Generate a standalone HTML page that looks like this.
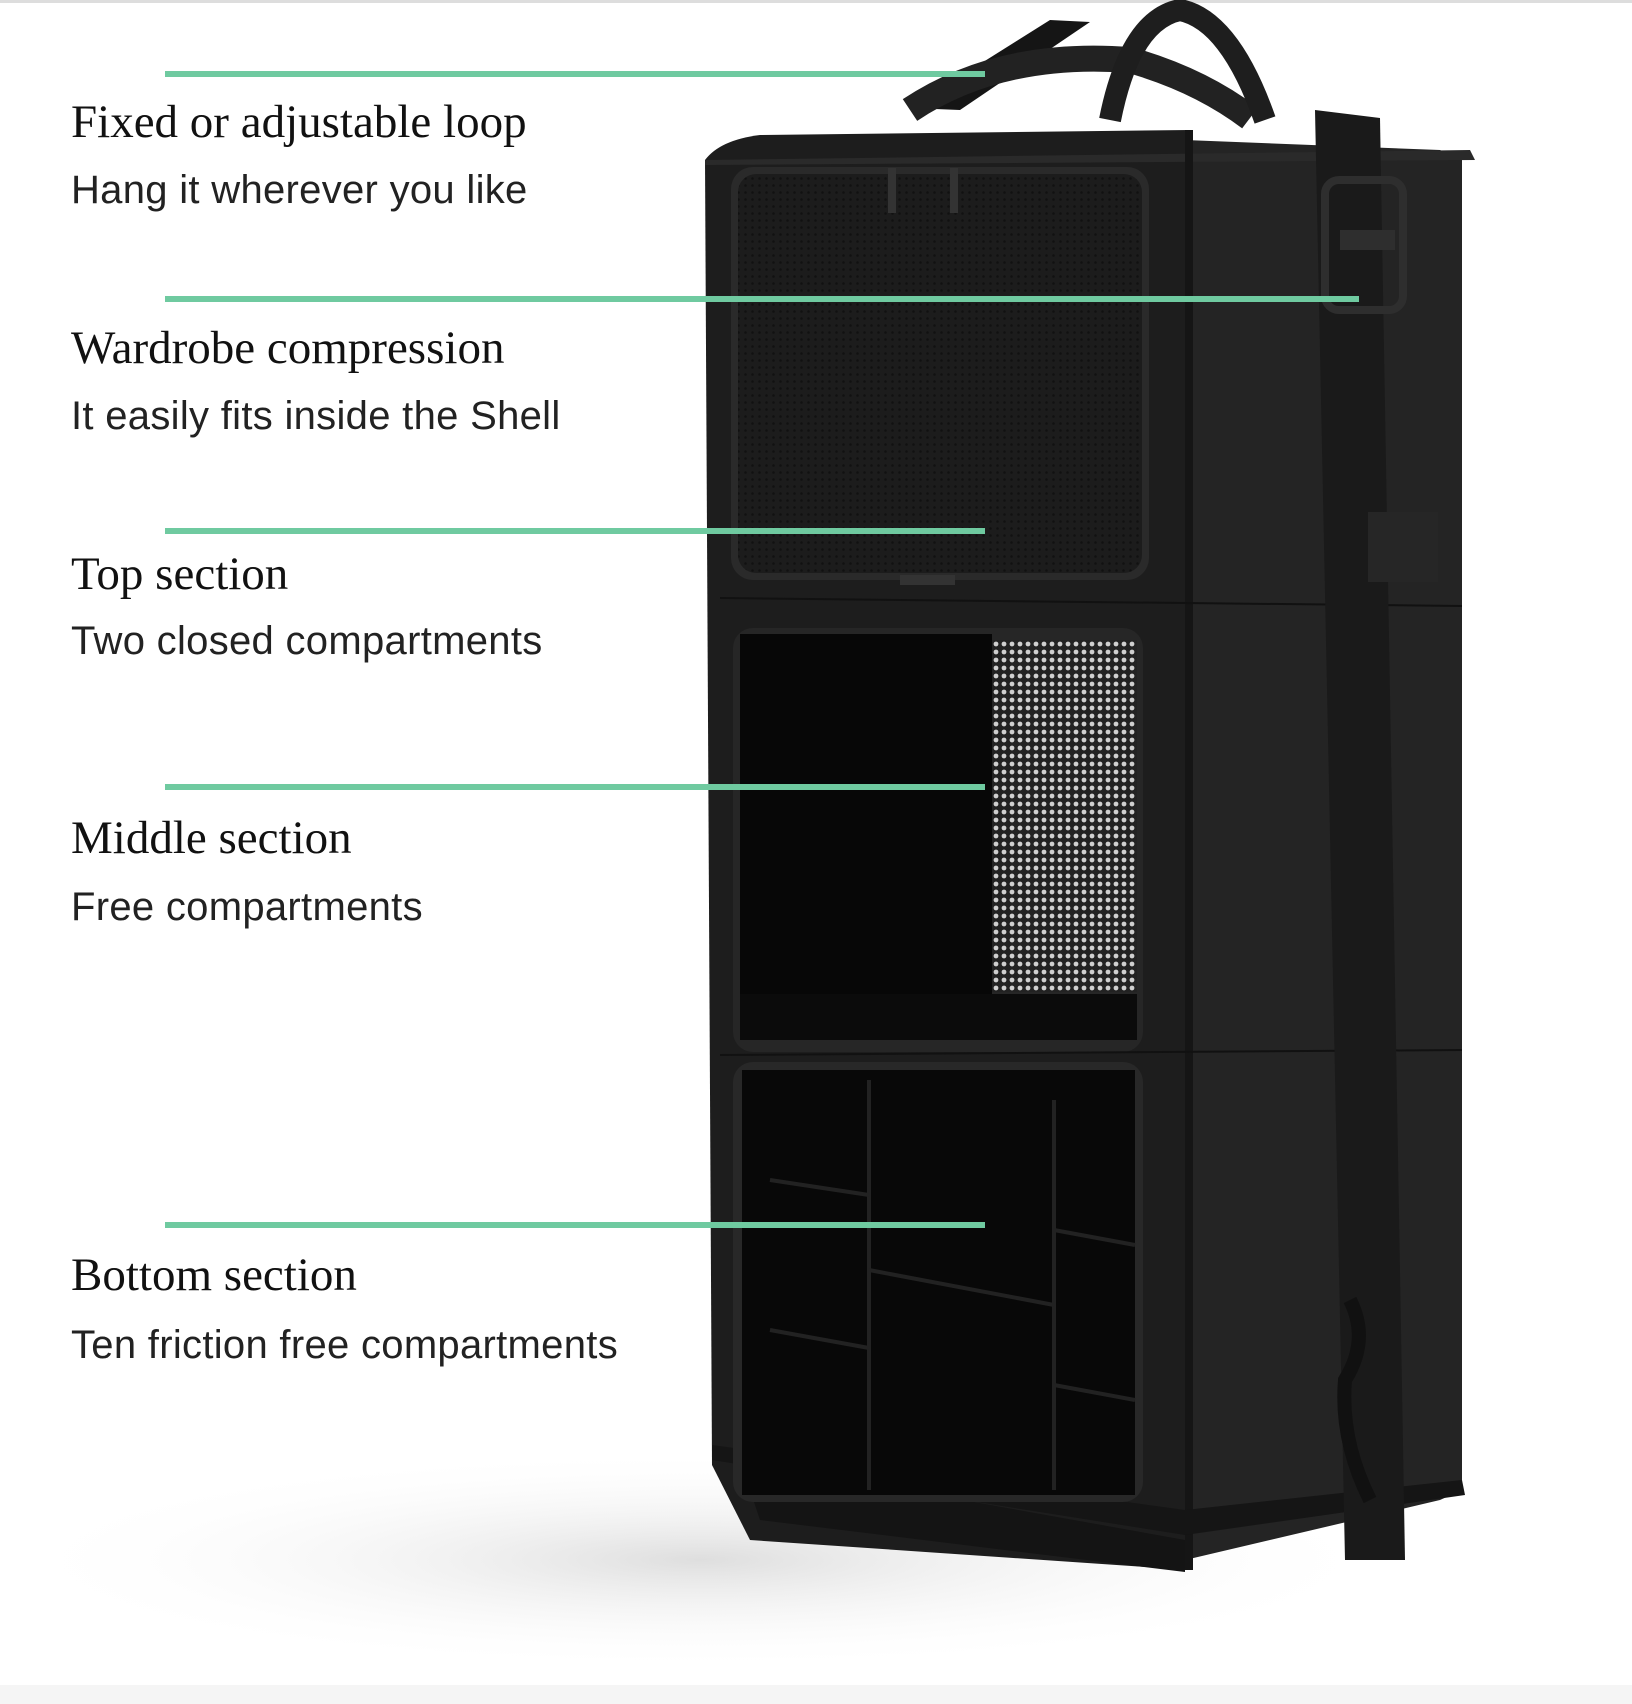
<!DOCTYPE html>
<html><head><meta charset="utf-8"><style>
html,body{margin:0;padding:0;background:#fff;}
body{width:1632px;height:1704px;overflow:hidden;position:relative;}
svg{position:absolute;left:0;top:0;}
.h{position:absolute;left:71px;font-family:"Liberation Serif",serif;font-size:47px;color:#111;white-space:nowrap;line-height:1;}
.s{position:absolute;left:71px;font-family:"Liberation Sans",sans-serif;font-size:40px;color:#222;white-space:nowrap;line-height:1;letter-spacing:0.3px;}
</style></head><body>
<svg width="1632" height="1704" viewBox="0 0 1632 1704">
<defs>
<radialGradient id="sh" cx="0.5" cy="0.5" r="0.5"><stop offset="0" stop-color="#dedede"/><stop offset="1" stop-color="#fff" stop-opacity="0"/></radialGradient>
<pattern id="mesh" width="7" height="7" patternUnits="userSpaceOnUse"><rect width="7" height="7" fill="#1c1c1c"/><circle cx="3.5" cy="3.5" r="1.3" fill="#111"/></pattern>
<pattern id="mesh2" width="8" height="8" patternUnits="userSpaceOnUse"><rect width="8" height="8" fill="#222"/><circle cx="4" cy="4" r="2.4" fill="#cfcfcf"/></pattern>
</defs>
<rect x="0" y="0" width="1632" height="3" fill="#ddd"/>
<ellipse cx="700" cy="1560" rx="700" ry="110" fill="url(#sh)"/>
<rect x="0" y="1685" width="1632" height="19" fill="#f5f5f5"/>
<path d="M910 108 L1050 20 L1090 22 L960 110 Z" fill="#151515"/>
<path d="M910 110 Q1000 50 1130 60 Q1200 80 1250 118" stroke="#222" stroke-width="26" fill="none"/>
<path d="M1110 120 Q1130 20 1180 10 Q1230 20 1265 120" stroke="#1e1e1e" stroke-width="22" fill="none"/>
<path d="M1185 140 L1440 150 L1462 160 L1462 1490 L1440 1500 L1185 1560 Z" fill="#242424"/>
<path d="M705 160 Q720 140 760 135 L1190 130 L1190 1570 L750 1540 L712 1465 Z" fill="#1d1d1d"/>
<path d="M705 160 L1470 150 L1475 160 L705 165 Z" fill="#2a2a2a"/>
<rect x="1185" y="130" width="8" height="1440" fill="#151515"/>
<path d="M712 1445 L1185 1510 L1462 1480 L1465 1495 L1185 1535 L712 1460 Z" fill="#151515"/>
<path d="M740 1460 L1185 1540 L1185 1572 L760 1520 Z" fill="#141414"/>
<rect x="731" y="167" width="418" height="413" rx="22" fill="#2a2a2a"/>
<rect x="738" y="174" width="404" height="399" rx="18" fill="url(#mesh)"/>
<rect x="888" y="168" width="8" height="45" fill="#333"/><rect x="950" y="168" width="8" height="45" fill="#333"/>
<rect x="900" y="575" width="55" height="10" fill="#333"/>
<line x1="720" y1="598" x2="1462" y2="606" stroke="#111" stroke-width="2"/>
<rect x="733" y="628" width="410" height="424" rx="20" fill="#262626"/>
<rect x="740" y="634" width="252" height="360" fill="#070707"/>
<rect x="992" y="640" width="145" height="352" fill="url(#mesh2)"/>
<path d="M740 994 L1137 994 L1137 1040 L740 1040 Z" fill="#0b0b0b"/>
<line x1="720" y1="1055" x2="1462" y2="1050" stroke="#111" stroke-width="2"/>
<rect x="733" y="1062" width="410" height="440" rx="20" fill="#282828"/>
<rect x="742" y="1070" width="393" height="425" fill="#080808"/>
<g stroke="#222" stroke-width="4">
<line x1="869" y1="1080" x2="869" y2="1490"/><line x1="1054" y1="1100" x2="1054" y2="1490"/>
<line x1="770" y1="1180" x2="869" y2="1195"/><line x1="770" y1="1330" x2="869" y2="1348"/>
<line x1="869" y1="1270" x2="1054" y2="1305"/><line x1="1054" y1="1230" x2="1135" y2="1245"/>
<line x1="1054" y1="1385" x2="1135" y2="1400"/>
</g>
<path d="M1315 110 L1380 118 L1405 1560 L1345 1560 Z" fill="#1a1a1a"/>
<rect x="1325" y="180" width="78" height="130" rx="14" fill="none" stroke="#2e2e2e" stroke-width="8"/>
<rect x="1340" y="230" width="55" height="20" fill="#2e2e2e"/>
<rect x="1368" y="512" width="70" height="70" fill="#262626"/>
<path d="M1350 1300 Q1370 1340 1345 1380 Q1340 1440 1370 1500" stroke="#111" stroke-width="14" fill="none"/>
<g fill="#6fcaa0">
<rect x="165" y="71" width="820" height="6"/>
<rect x="165" y="296" width="1194" height="6"/>
<rect x="165" y="528" width="820" height="6"/>
<rect x="165" y="784" width="820" height="6"/>
<rect x="165" y="1222" width="820" height="6"/>
</g>
</svg>
<div class="h" style="top:99px">Fixed or adjustable loop</div>
<div class="s" style="top:170px">Hang it wherever you like</div>
<div class="h" style="top:325px">Wardrobe compression</div>
<div class="s" style="top:396px">It easily fits inside the Shell</div>
<div class="h" style="top:551px">Top section</div>
<div class="s" style="top:621px">Two closed compartments</div>
<div class="h" style="top:815px">Middle section</div>
<div class="s" style="top:887px">Free compartments</div>
<div class="h" style="top:1252px">Bottom section</div>
<div class="s" style="top:1325px">Ten friction free compartments</div>
</body></html>
